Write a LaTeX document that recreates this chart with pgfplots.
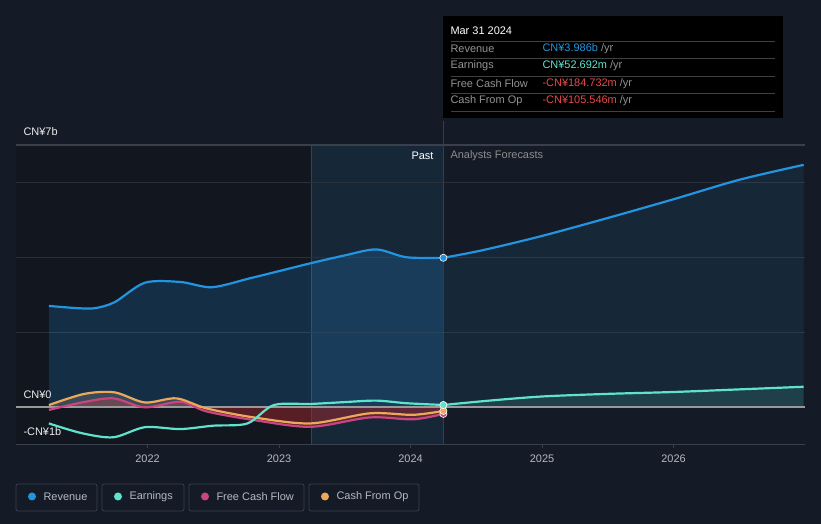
\documentclass[border=0pt]{standalone}
\usepackage{fontspec}
\setmainfont{Liberation Sans}
\usepackage{pgfplots}
\pgfplotsset{compat=1.18}

\definecolor{bg}{HTML}{151B26}
\definecolor{revc}{HTML}{2394DF}
\definecolor{earnc}{HTML}{5FE3CD}
\definecolor{fcfc}{HTML}{C9457F}
\definecolor{cfoc}{HTML}{EDA85B}
\definecolor{gridc}{HTML}{2A303A}
\definecolor{txtc}{HTML}{B4B8BF}
\definecolor{negc}{HTML}{E84A4A}
\definecolor{boxc}{HTML}{3A404B}
\definecolor{redfill}{HTML}{B02830}

% x values are years after 2021.0
\begin{document}
\begin{tikzpicture}[font=\fontsize{11}{13}\selectfont]
\begin{scope}[x=1bp,y=1bp]
\fill[bg] (0,0) rectangle (821,524);
\useasboundingbox (0,0) rectangle (821,524);
\end{scope}

\begin{axis}[
    at={(16bp,79.6bp)}, anchor=south west,
    scale only axis,
    width=789bp, height=299.4bp,
    xmin=0, xmax=6,
    ymin=-1, ymax=7,
    axis lines=none,
    clip=false,
    xtick=\empty,
    ytick=\empty,
]
% region shading
\fill[black,opacity=0.18] (axis cs:0,-1) rectangle (axis cs:2.25,7);
\fill[revc,opacity=0.10] (axis cs:2.25,-1) rectangle (axis cs:3.25,7);
\draw[revc!40!bg,line width=0.8bp] (axis cs:2.25,-1) -- (axis cs:2.25,7);

% grid lines
\draw[gridc,line width=1.2bp] (axis cs:0,2) -- (axis cs:6,2);
\draw[gridc,line width=1.2bp] (axis cs:0,4) -- (axis cs:6,4);
\draw[gridc,line width=1.2bp] (axis cs:0,6) -- (axis cs:6,6);
\draw[boxc,line width=1.2bp] (axis cs:0,7) -- (axis cs:6,7);
\draw[boxc,line width=1.2bp] (axis cs:0,-1) -- (axis cs:6,-1);
\pgfplotsinvokeforeach{1,2,3,4,5}{
  \draw[boxc,line width=1bp] (axis cs:#1,-1) -- (axis cs:#1,-1.1);}
\node[txtc] at (axis cs:1,-1.38) {2022};
\node[txtc] at (axis cs:2,-1.38) {2023};
\node[txtc] at (axis cs:3,-1.38) {2024};
\node[txtc] at (axis cs:4,-1.38) {2025};
\node[txtc] at (axis cs:5,-1.38) {2026};

% area fills
\addplot[draw=none,fill=revc,fill opacity=0.2,smooth] coordinates {
 (0.25,2.70) (0.47,2.64) (0.6,2.64) (0.75,2.80) (0.98,3.32)
 (1.25,3.34) (1.49,3.20) (1.78,3.44) (2.0,3.63) (2.24,3.84)
 (2.5,4.05) (2.74,4.21) (2.97,4.00) (3.25,3.986)} \closedcycle;
\addplot[draw=none,fill=revc,fill opacity=0.1,smooth] coordinates {
 (3.25,3.986) (3.55,4.19) (4.0,4.57) (4.5,5.05) (5.0,5.55) (5.5,6.07) (5.99,6.47)} \closedcycle;
\addplot[draw=none,fill=earnc,fill opacity=0.13,smooth] coordinates {
 (3.25,0.053) (3.6,0.17) (4.0,0.28) (4.5,0.35) (5.0,0.40) (5.5,0.47) (5.99,0.54)} \closedcycle;

% cash flow fills (red below zero, grey above)
\addplot[draw=none,fill=redfill,fill opacity=0.45,smooth] coordinates {
 (0.25,-0.08) (0.5,0.12) (0.74,0.23) (0.98,-0.01) (1.25,0.14)
 (1.45,-0.12) (1.81,-0.35) (2.24,-0.53) (2.69,-0.28) (3.02,-0.33) (3.25,-0.185)} \closedcycle;
\begin{scope}
\clip (axis cs:0.25,0) rectangle (axis cs:3.25,1);
\addplot[draw=none,fill=gray,fill opacity=0.35,smooth] coordinates {
 (0.25,0.05) (0.52,0.35) (0.75,0.39) (0.98,0.12) (1.22,0.23)
 (1.45,-0.04) (1.81,-0.28) (2.24,-0.44) (2.69,-0.17) (3.02,-0.21) (3.25,-0.106)} \closedcycle;
\end{scope}

% zero line
\draw[gray!80,line width=1.5bp] (axis cs:0,0) -- (axis cs:6,0);

% series lines
\addplot[revc,line width=2.2bp,smooth] coordinates {
 (0.25,2.70) (0.47,2.64) (0.6,2.64) (0.75,2.80) (0.98,3.32)
 (1.25,3.34) (1.49,3.20) (1.78,3.44) (2.0,3.63) (2.24,3.84)
 (2.5,4.05) (2.74,4.21) (2.97,4.00) (3.25,3.986)};
\addplot[revc,line width=2.2bp,smooth] coordinates {
 (3.25,3.986) (3.55,4.19) (4.0,4.57) (4.5,5.05) (5.0,5.55) (5.5,6.07) (5.99,6.47)};
\addplot[fcfc,line width=2.2bp,smooth] coordinates {
 (0.25,-0.08) (0.5,0.12) (0.74,0.23) (0.98,-0.01) (1.25,0.14)
 (1.45,-0.12) (1.81,-0.35) (2.24,-0.53) (2.69,-0.28) (3.02,-0.33) (3.25,-0.185)};
\addplot[cfoc,line width=2.2bp,smooth] coordinates {
 (0.25,0.05) (0.52,0.35) (0.75,0.39) (0.98,0.12) (1.22,0.23)
 (1.45,-0.04) (1.81,-0.28) (2.24,-0.44) (2.69,-0.17) (3.02,-0.21) (3.25,-0.106)};
\addplot[earnc,line width=2.2bp,smooth] coordinates {
 (0.25,-0.44) (0.5,-0.70) (0.74,-0.81) (0.98,-0.54) (1.25,-0.59)
 (1.5,-0.50) (1.76,-0.44) (1.96,0.05) (2.24,0.08) (2.5,0.13)
 (2.74,0.17) (2.97,0.10) (3.25,0.053)};
\addplot[earnc,line width=2.2bp,smooth] coordinates {
 (3.25,0.053) (3.6,0.17) (4.0,0.28) (4.5,0.35) (5.0,0.40) (5.5,0.47) (5.99,0.54)};

% current-date line
\draw[revc!35!bg,line width=1bp] (axis cs:3.25,-1) -- (axis cs:3.25,7.65);

% markers at Mar 31 2024
\addplot[only marks,mark=*,mark size=3.6bp,fill=fcfc,draw=white,line width=0.6bp] coordinates {(3.25,-0.185)};
\addplot[only marks,mark=*,mark size=3.6bp,fill=cfoc,draw=white,line width=0.6bp] coordinates {(3.25,-0.106)};
\addplot[only marks,mark=*,mark size=3.6bp,fill=earnc,draw=white,line width=0.6bp] coordinates {(3.25,0.053)};
\addplot[only marks,mark=*,mark size=3.6bp,fill=revc,draw=white,line width=0.6bp] coordinates {(3.25,3.986)};
\end{axis}

\begin{scope}[x=1bp,y=1bp]
% y labels
\node[anchor=west,text=white!85!gray] at (20,392) {CN¥7b};
\node[anchor=west,text=white!85!gray] at (20,129) {CN¥0};
\node[anchor=west,text=white!85!gray] at (20,92) {-CN¥1b};

% Past / forecast labels
\node[anchor=east,text=white] at (437,368) {Past};
\node[anchor=west,text=gray!90!white] at (447,368) {Analysts Forecasts};

% tooltip
\fill[black] (443,406) rectangle (783,508);
\node[anchor=west,text=white] at (447,493) {Mar 31 2024};
\foreach \yy in {482.3,465.7,447.3,430.7,412.3} {\draw[gray!50!black,line width=0.8bp] (451,\yy) -- (775,\yy);}
\node[anchor=west,text=gray!85!white] at (447,475) {Revenue};
\node[anchor=west,text=gray!85!white] at (447,458) {Earnings};
\node[anchor=west,text=gray!85!white] at (447,440) {Free Cash Flow};
\node[anchor=west,text=gray!85!white] at (447,423) {Cash From Op};
\node[anchor=west] at (539,475) {\textcolor{revc}{CN¥3.986b} \textcolor{gray!85!white}{/yr}};
\node[anchor=west] at (539,458) {\textcolor{earnc}{CN¥52.692m} \textcolor{gray!85!white}{/yr}};
\node[anchor=west] at (539,440) {\textcolor{negc}{-CN¥184.732m} \textcolor{gray!85!white}{/yr}};
\node[anchor=west] at (539,423) {\textcolor{negc}{-CN¥105.546m} \textcolor{gray!85!white}{/yr}};

% legend
\draw[boxc,rounded corners=2bp,line width=0.8bp] (16,13) rectangle (97,40);
\draw[boxc,rounded corners=2bp,line width=0.8bp] (102,13) rectangle (184,40);
\draw[boxc,rounded corners=2bp,line width=0.8bp] (189,13) rectangle (304,40);
\draw[boxc,rounded corners=2bp,line width=0.8bp] (309,13) rectangle (419,40);
\fill[revc] (32,27.5) circle (4bp);
\fill[earnc] (118,27.5) circle (4bp);
\fill[fcfc] (205,27.5) circle (4bp);
\fill[cfoc] (325,27.5) circle (4bp);
\node[anchor=west,text=txtc] at (40,27.5) {Revenue};
\node[anchor=west,text=txtc] at (126,27.5) {Earnings};
\node[anchor=west,text=txtc] at (213,27.5) {Free Cash Flow};
\node[anchor=west,text=txtc] at (333,27.5) {Cash From Op};
\end{scope}
\end{tikzpicture}
\end{document}
